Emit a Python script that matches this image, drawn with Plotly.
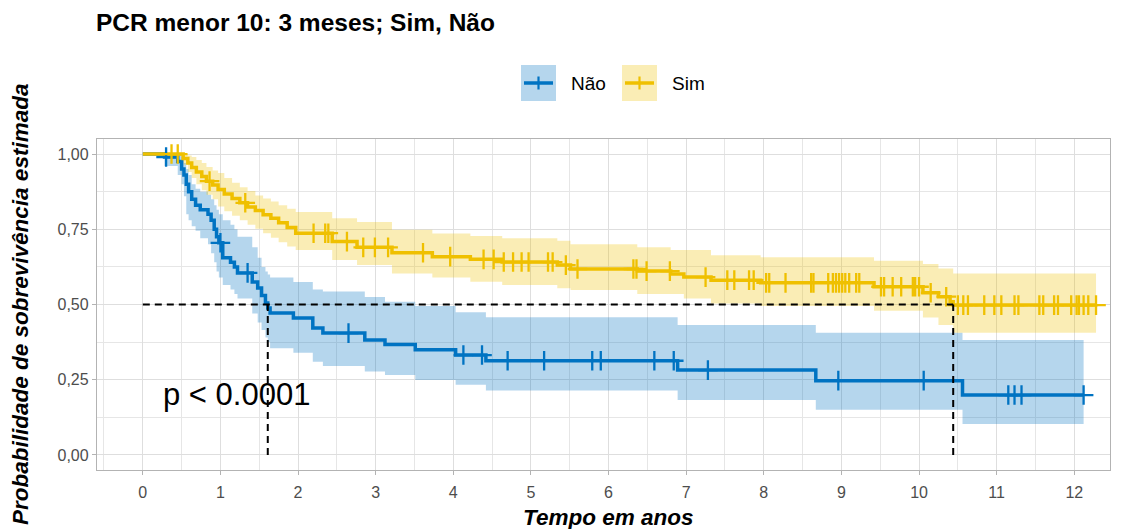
import plotly.graph_objects as go

# Kaplan-Meier estimates: step times, survival and 95% confidence limits
nao_time = [0, 0.28, 0.45, 0.50, 0.53, 0.56, 0.59, 0.63, 0.68, 0.74, 0.84, 0.88, 0.92,
            0.95, 0.98, 1.03, 1.13, 1.18, 1.22, 1.41, 1.48, 1.53, 1.58, 1.61, 1.64,
            1.94, 2.19, 2.32, 2.86, 3.12, 3.51, 4.03, 4.42, 6.89, 8.67, 10.56]
nao_surv = [1.0, 0.99, 0.975, 0.95, 0.93, 0.90, 0.875, 0.85, 0.83, 0.815, 0.80, 0.78, 0.75,
            0.725, 0.705, 0.655, 0.64, 0.625, 0.605, 0.575, 0.555, 0.53, 0.505, 0.488, 0.472,
            0.455, 0.422, 0.405, 0.382, 0.367, 0.350, 0.332, 0.313, 0.282, 0.247, 0.199]
nao_lower = [1.0, 0.96, 0.93, 0.90, 0.86, 0.80, 0.78, 0.76, 0.745, 0.72, 0.70, 0.67, 0.64,
             0.61, 0.59, 0.565, 0.55, 0.535, 0.52, 0.47, 0.44, 0.415, 0.39, 0.375, 0.355,
             0.34, 0.31, 0.296, 0.277, 0.266, 0.249, 0.233, 0.214, 0.183, 0.15, 0.103]
nao_upper = [1.0, 1.0, 1.0, 0.99, 0.97, 0.95, 0.93, 0.90, 0.885, 0.875, 0.865, 0.85, 0.83,
             0.815, 0.80, 0.78, 0.765, 0.75, 0.725, 0.69, 0.655, 0.625, 0.61, 0.60, 0.59,
             0.575, 0.55, 0.543, 0.525, 0.509, 0.495, 0.474, 0.458, 0.432, 0.406, 0.382]
nao_end = 12.12
nao_censor = [0.30, 1.00, 1.35, 2.65, 4.13, 4.37, 4.70, 5.17, 5.79, 5.90, 6.59, 6.84,
              7.28, 8.96, 10.06, 11.15, 11.23, 11.32, 12.12]

sim_time = [0, 0.52, 0.58, 0.63, 0.69, 0.76, 0.82, 0.90, 0.97, 1.05, 1.15, 1.25, 1.35,
            1.45, 1.55, 1.65, 1.75, 1.86, 1.97, 2.44, 2.76, 3.21, 3.73, 4.22, 4.63, 5.34,
            5.51, 6.37, 6.80, 6.97, 7.32, 7.96, 9.42, 10.05, 10.25, 10.40, 10.44]
sim_surv = [1.0, 0.985, 0.97, 0.955, 0.94, 0.925, 0.91, 0.897, 0.882, 0.867, 0.852, 0.838,
            0.824, 0.812, 0.798, 0.787, 0.772, 0.756, 0.737, 0.709, 0.690, 0.672, 0.659,
            0.650, 0.641, 0.631, 0.618, 0.611, 0.601, 0.591, 0.581, 0.572, 0.559, 0.539,
            0.526, 0.509, 0.498]
sim_lower = [1.0, 0.965, 0.94, 0.92, 0.90, 0.88, 0.865, 0.85, 0.826, 0.81, 0.795, 0.78,
             0.765, 0.752, 0.737, 0.722, 0.707, 0.693, 0.681, 0.648, 0.631, 0.603, 0.59,
             0.576, 0.565, 0.554, 0.548, 0.535, 0.535, 0.52, 0.503, 0.495, 0.479, 0.457,
             0.432, 0.432, 0.406]
sim_upper = [1.0, 1.0, 0.995, 0.99, 0.98, 0.97, 0.957, 0.945, 0.937, 0.92, 0.905, 0.89,
             0.877, 0.862, 0.852, 0.842, 0.83, 0.818, 0.807, 0.787, 0.774, 0.748, 0.736,
             0.728, 0.72, 0.712, 0.70, 0.69, 0.681, 0.681, 0.664, 0.657, 0.645, 0.635,
             0.62, 0.62, 0.603]
sim_end = 12.28
sim_censor = [0.37, 0.45, 0.86, 1.32, 2.20, 2.35, 2.39, 2.63, 2.84, 2.99, 3.16, 3.61, 3.96,
              4.39, 4.52, 4.65, 4.77, 4.88, 4.97, 5.22, 5.28, 5.45, 5.60, 6.32, 6.36, 6.49,
              6.79, 7.25, 7.53, 7.62, 7.81, 7.87, 8.03, 8.07, 8.28, 8.61, 8.64, 8.83, 8.89,
              8.93, 8.97, 9.01, 9.05, 9.10, 9.19, 9.23, 9.51, 9.55, 9.66, 9.77, 9.92, 9.95,
              10.00, 10.15, 10.35, 10.50, 10.57, 10.63, 10.84, 10.97, 11.06, 11.23, 11.28,
              11.55, 11.60, 11.74, 11.79, 11.96, 12.03, 12.06, 12.12, 12.18, 12.28]

median_nao = 1.61
median_sim = 10.44
p_label = "p < 0.0001"

x_ticks = list(range(0, 13))
y_ticks = [0, 0.25, 0.5, 0.75, 1.0]
y_ticktext = ["0,00", "0,25", "0,50", "0,75", "1,00"]

groups = [
    ("Não", nao_time, nao_surv, nao_lower, nao_upper, nao_end, nao_censor,
     "#0073C2", "rgba(0,115,194,0.29)"),
    ("Sim", sim_time, sim_surv, sim_lower, sim_upper, sim_end, sim_censor,
     "#EFC000", "rgba(239,192,0,0.29)"),
]

FONT = "Liberation Sans, Arial, sans-serif"


def extend(times, values, t_end):
    return list(times) + [t_end], list(values) + [values[-1]]


def surv_at(times, values, t):
    s = values[0]
    for ti, vi in zip(times, values):
        if ti <= t:
            s = vi
    return s


fig = go.Figure()

# confidence bands
for name, t, s, lo, up, t_end, cens, col, fill in groups:
    xl, yl = extend(t, lo, t_end)
    xu, yu = extend(t, up, t_end)
    fig.add_trace(go.Scatter(x=xl, y=yl, mode="lines", line=dict(width=0, shape="hv"),
                             hoverinfo="skip", showlegend=False))
    fig.add_trace(go.Scatter(x=xu, y=yu, mode="lines", line=dict(width=0, shape="hv"),
                             fill="tonexty", fillcolor=fill, hoverinfo="skip",
                             showlegend=False))

# survival curves
for name, t, s, lo, up, t_end, cens, col, fill in groups:
    xs, ys = extend(t, s, t_end)
    fig.add_trace(go.Scatter(x=xs, y=ys, mode="lines", name=name,
                             line=dict(color=col, width=3.5, shape="hv"),
                             showlegend=False))

# censoring marks
for name, t, s, lo, up, t_end, cens, col, fill in groups:
    cy = [surv_at(t, s, c) for c in cens]
    fig.add_trace(go.Scatter(x=cens, y=cy, mode="markers", showlegend=False,
                             marker=dict(symbol="cross-thin", size=14,
                                         line=dict(color=col, width=2.3))))

# median survival guides
dash_style = dict(color="black", width=2, dash="7px,5px")
fig.add_trace(go.Scatter(x=[0, median_sim], y=[0.5, 0.5], mode="lines",
                         line=dash_style, showlegend=False, hoverinfo="skip"))
for m in (median_nao, median_sim):
    fig.add_trace(go.Scatter(x=[m, m], y=[0, 0.5], mode="lines",
                             line=dash_style, showlegend=False, hoverinfo="skip"))

fig.add_annotation(x=0.23, y=0.2, xref="x", yref="y", text=p_label, showarrow=False,
                   xanchor="left", yanchor="middle",
                   font=dict(family=FONT, size=31, color="black"))

# legend keys drawn in paper coordinates
W0, W1, H0, H1 = 97, 1110, 139, 470


def px(x):
    return (x - W0) / (W1 - W0)


def py(y):
    return (H1 - y) / (H1 - H0)


legend_keys = [("Não", 521, "#0073C2", "rgba(0,115,194,0.29)"),
               ("Sim", 622, "#EFC000", "rgba(239,192,0,0.29)")]
for name, x0, col, fill in legend_keys:
    fig.add_shape(type="rect", xref="paper", yref="paper",
                  x0=px(x0), x1=px(x0 + 35), y0=py(101), y1=py(65),
                  fillcolor=fill, line=dict(width=0), layer="above")
    fig.add_shape(type="line", xref="paper", yref="paper",
                  x0=px(x0 + 3), x1=px(x0 + 32), y0=py(83), y1=py(83),
                  line=dict(color=col, width=3.5), layer="above")
    fig.add_shape(type="line", xref="paper", yref="paper",
                  x0=px(x0 + 17.5), x1=px(x0 + 17.5), y0=py(76.5), y1=py(89.5),
                  line=dict(color=col, width=2.2), layer="above")
    fig.add_annotation(x=px(x0 + 48), y=py(83), xref="paper", yref="paper", text=name,
                       showarrow=False, xanchor="left", yanchor="middle",
                       font=dict(family=FONT, size=19, color="black"))

# axis titles placed as free text so the panel keeps its fixed size
fig.add_annotation(x=px(608), y=py(517), xref="paper", yref="paper",
                   text="<b><i>Tempo em anos</i></b>", showarrow=False,
                   xanchor="center", yanchor="middle",
                   font=dict(family=FONT, size=22.5, color="black"))
fig.add_annotation(x=px(20), y=py(305), xref="paper", yref="paper",
                   text="<b><i>Probabilidade de sobrevivência estimada</i></b>",
                   showarrow=False, textangle=-90, xanchor="center", yanchor="middle",
                   font=dict(family=FONT, size=22.5, color="black"))

grid_col = "#dedede"
fig.update_layout(
    width=1121, height=529,
    margin=dict(l=W0, r=1121 - W1, t=H0, b=529 - H1, autoexpand=False),
    paper_bgcolor="white", plot_bgcolor="white",
    font=dict(family=FONT, color="#4d4d4d"),
    title=dict(text="<b>PCR menor 10: 3 meses; Sim, Não</b>", x=96 / 1121,
               xref="container", xanchor="left", y=1 - 22 / 529, yanchor="middle",
               font=dict(size=24.5, color="black", family=FONT)),
    showlegend=False,
    xaxis=dict(range=[-0.59, 12.46], tickvals=x_ticks, ticks="outside", ticklen=4,
               tickcolor="#b3b3b3", tickfont=dict(size=16, color="#4d4d4d"),
               ticklabelstandoff=4, automargin=False,
               showgrid=True, gridcolor=grid_col, gridwidth=1.3, zeroline=False,
               minor=dict(dtick=0.5, tick0=0, showgrid=True, gridcolor="#e6e6e6",
                          gridwidth=0.9),
               showline=True, mirror=True, linecolor="#b3b3b3", linewidth=1.3),
    yaxis=dict(range=[-0.05, 1.05], tickvals=y_ticks, ticktext=y_ticktext,
               ticks="outside", ticklen=4, tickcolor="#b3b3b3",
               tickfont=dict(size=16, color="#4d4d4d"), automargin=False,
               showgrid=True, gridcolor=grid_col, gridwidth=1.3, zeroline=False,
               minor=dict(dtick=0.125, tick0=0, showgrid=True, gridcolor="#e6e6e6",
                          gridwidth=0.9),
               showline=True, mirror=True, linecolor="#b3b3b3", linewidth=1.3),
)

fig.write_html("out.html")
